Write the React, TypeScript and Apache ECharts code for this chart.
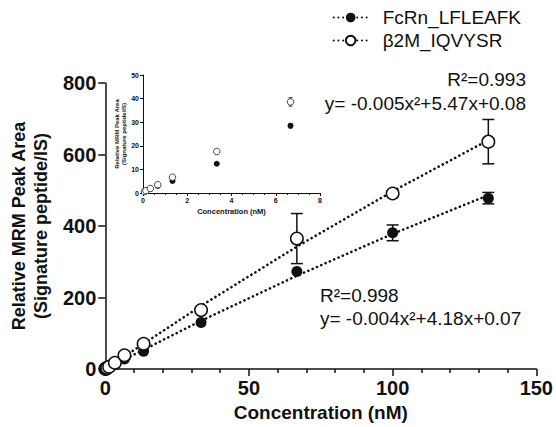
import React, { useEffect, useRef } from "react";
import * as echarts from "echarts";

// Concentrations (nM)
const concentrations = [0.067, 0.133, 0.333, 0.667, 1.333, 3.333, 6.667, 13.33, 33.33, 66.67, 100, 133.3];
// FcRn_LFLEAFK mean and error
const fcrnValues = [0.5, 0.9, 1.7, 3.0, 5.1, 12.4, 28.5, 50, 130, 273, 381, 478];
const fcrnErrors = [0, 0, 0, 0, 0, 0, 1.0, 0, 0, 0, 22, 16];
// β2M_IQVYSR mean and error
const b2mValues = [0.6, 1.0, 1.9, 3.5, 6.7, 17.6, 38.6, 71, 165, 365, 491, 636];
const b2mErrors = [0, 0, 0, 0, 0, 0, 1.8, 0, 0, 70, 7, 62];
// Fitted curves
const fitX = [0, 33.3, 66.7, 100, 133.3];
const fcrnFit = [0.07, 134.9, 261.0, 378.1, 486.2];
const b2mFit = [0.08, 176.6, 342.6, 497.1, 640.3];

const legendNames = ["FcRn_LFLEAFK", "β2M_IQVYSR"];
const mainXTicks = [0, 50, 100, 150];
const mainYTicks = [0, 200, 400, 600, 800];
const insetXTicks = [0, 2, 4, 6, 8];
const insetYTicks = [0, 10, 20, 30, 40, 50];

const annotHigh = ["R²=0.993", "y= -0.005x²+5.47x+0.08"];
const annotLow = ["R²=0.998", "y= -0.004x²+4.18x+0.07"];

const FONT = "'Liberation Sans', Arial, Helvetica, sans-serif";
const INK = "#111";

function pairs(xs: number[], ys: number[]) {
  return xs.map((x, i) => [x, ys[i]]);
}
function errTriples(xs: number[], ys: number[], es: number[], maxX: number) {
  return xs
    .map((x, i) => [x, ys[i], es[i]])
    .filter((d) => d[2] > 0 && d[0] <= maxX);
}

function errorBarRender(cap: number, width: number) {
  return (params: any, api: any) => {
    const x = api.value(0);
    const y = api.value(1);
    const e = api.value(2);
    const top = api.coord([x, y + e]);
    const bot = api.coord([x, y - e]);
    const style = { stroke: INK, lineWidth: width };
    return {
      type: "group",
      children: [
        { type: "line", shape: { x1: top[0], y1: top[1], x2: bot[0], y2: bot[1] }, style },
        { type: "line", shape: { x1: top[0] - cap, y1: top[1], x2: top[0] + cap, y2: top[1] }, style },
        { type: "line", shape: { x1: bot[0] - cap, y1: bot[1], x2: bot[0] + cap, y2: bot[1] }, style },
      ],
    };
  };
}

const dotted = { color: INK, width: 2.6, type: [0.1, 4.6] as any, cap: "round" as any };

export default function App() {
  const ref = useRef<HTMLDivElement>(null);
  useEffect(() => {
    if (!ref.current) return;
    const chart = echarts.init(ref.current, undefined, { renderer: "svg" });
    const axisCommon = (big: boolean) => ({
      axisLine: { show: true, onZero: false, lineStyle: { color: INK, width: big ? 1.5 : 1 } },
      splitLine: { show: false },
      minorSplitLine: { show: false },
    });
    const option: any = {
      animation: false,
      backgroundColor: "#fff",
      textStyle: { fontFamily: FONT },
      legend: {
        orient: "vertical",
        right: 30,
        top: 3,
        itemWidth: 34,
        itemHeight: 12,
        itemGap: 4,
        data: legendNames,
        textStyle: { fontSize: 19, color: INK, fontFamily: FONT, padding: [0, 0, 0, 10] },
      },
      grid: [
        { left: 104, right: 16, top: 83, bottom: 53 },
        { left: 143, top: 75, width: 177, height: 118 },
      ],
      xAxis: [
        {
          gridIndex: 0,
          type: "value",
          min: mainXTicks[0],
          max: mainXTicks[mainXTicks.length - 1],
          interval: mainXTicks[1] - mainXTicks[0],
          ...axisCommon(true),
          axisTick: { show: true, length: 7, lineStyle: { color: INK, width: 1.5 } },
          minorTick: { show: true, splitNumber: 5, length: 4, lineStyle: { color: INK, width: 1.5 } },
          axisLabel: { fontSize: 20, fontWeight: "bold", color: INK, margin: 9, fontFamily: FONT },
          name: "Concentration (nM)",
          nameLocation: "middle",
          nameGap: 29,
          nameTextStyle: { fontSize: 19, fontWeight: "bold", color: INK, fontFamily: FONT },
        },
        {
          gridIndex: 1,
          type: "value",
          min: insetXTicks[0],
          max: insetXTicks[insetXTicks.length - 1],
          interval: insetXTicks[1] - insetXTicks[0],
          ...axisCommon(false),
          axisTick: { show: true, length: 3, lineStyle: { color: INK, width: 1 } },
          minorTick: { show: true, splitNumber: 4, length: 2, lineStyle: { color: INK, width: 1 } },
          axisLabel: { fontSize: 7, fontWeight: "bold", color: INK, margin: 4, fontFamily: FONT },
          name: "Concentration (nM)",
          nameLocation: "middle",
          nameGap: 14,
          nameTextStyle: { fontSize: 7.5, fontWeight: "bold", color: INK, fontFamily: FONT },
        },
      ],
      yAxis: [
        {
          gridIndex: 0,
          type: "value",
          min: mainYTicks[0],
          max: mainYTicks[mainYTicks.length - 1],
          interval: mainYTicks[1] - mainYTicks[0],
          ...axisCommon(true),
          axisTick: { show: true, length: 7, lineStyle: { color: INK, width: 1.5 } },
          axisLabel: { fontSize: 20, fontWeight: "bold", color: INK, margin: 9, fontFamily: FONT },
          name: "Relative MRM Peak Area\n(Signature peptide/IS)",
          nameLocation: "middle",
          nameGap: 52,
          nameTextStyle: { fontSize: 18, fontWeight: "bold", color: INK, lineHeight: 22, fontFamily: FONT },
        },
        {
          gridIndex: 1,
          type: "value",
          min: insetYTicks[0],
          max: insetYTicks[insetYTicks.length - 1],
          interval: insetYTicks[1] - insetYTicks[0],
          ...axisCommon(false),
          axisTick: { show: true, length: 3, lineStyle: { color: INK, width: 1 } },
          axisLabel: { fontSize: 7, fontWeight: "bold", color: INK, margin: 4, fontFamily: FONT },
          name: "Relative MRM Peak Area\n(Signature peptide/IS)",
          nameLocation: "middle",
          nameGap: 13,
          nameTextStyle: { fontSize: 6, fontWeight: "bold", color: INK, lineHeight: 7, fontFamily: FONT },
        },
      ],
      series: [
        // legend carriers
        {
          name: legendNames[0],
          type: "line",
          xAxisIndex: 0,
          yAxisIndex: 0,
          data: [],
          symbol: "circle",
          symbolSize: 11,
          itemStyle: { color: INK },
          lineStyle: dotted,
        },
        {
          name: legendNames[1],
          type: "line",
          xAxisIndex: 0,
          yAxisIndex: 0,
          data: [],
          symbol: "circle",
          symbolSize: 11,
          itemStyle: { color: "#fff", borderColor: INK, borderWidth: 1.5 },
          lineStyle: dotted,
        },
        // fit lines
        {
          name: "fcrn-fit",
          type: "line",
          xAxisIndex: 0,
          yAxisIndex: 0,
          data: pairs(fitX, fcrnFit),
          showSymbol: false,
          symbol: "none",
          lineStyle: dotted,
          z: 1,
        },
        {
          name: "b2m-fit",
          type: "line",
          xAxisIndex: 0,
          yAxisIndex: 0,
          data: pairs(fitX, b2mFit),
          showSymbol: false,
          symbol: "none",
          lineStyle: dotted,
          z: 1,
        },
        // error bars main
        {
          name: "fcrn-err",
          type: "custom",
          xAxisIndex: 0,
          yAxisIndex: 0,
          data: errTriples(concentrations, fcrnValues, fcrnErrors, 1000),
          renderItem: errorBarRender(6, 1.5),
          z: 2,
        },
        {
          name: "b2m-err",
          type: "custom",
          xAxisIndex: 0,
          yAxisIndex: 0,
          data: errTriples(concentrations, b2mValues, b2mErrors, 1000),
          renderItem: errorBarRender(6, 1.5),
          z: 2,
        },
        // points main
        {
          name: "fcrn-pts",
          type: "scatter",
          xAxisIndex: 0,
          yAxisIndex: 0,
          data: pairs(concentrations, fcrnValues),
          symbol: "circle",
          symbolSize: 11,
          itemStyle: { color: INK, opacity: 1 },
          z: 3,
        },
        {
          name: "b2m-pts",
          type: "scatter",
          xAxisIndex: 0,
          yAxisIndex: 0,
          data: pairs(concentrations, b2mValues),
          symbol: "circle",
          symbolSize: 12.5,
          itemStyle: { color: "#fff", borderColor: INK, borderWidth: 1.5, opacity: 1 },
          z: 3,
        },
        // inset
        {
          name: "fcrn-err-inset",
          type: "custom",
          xAxisIndex: 1,
          yAxisIndex: 1,
          data: errTriples(concentrations, fcrnValues, fcrnErrors, 8),
          renderItem: errorBarRender(2, 0.8),
          z: 2,
        },
        {
          name: "b2m-err-inset",
          type: "custom",
          xAxisIndex: 1,
          yAxisIndex: 1,
          data: errTriples(concentrations, b2mValues, b2mErrors, 8),
          renderItem: errorBarRender(2, 0.8),
          z: 2,
        },
        {
          name: "fcrn-inset",
          type: "scatter",
          xAxisIndex: 1,
          yAxisIndex: 1,
          data: pairs(concentrations, fcrnValues).filter((d) => d[0] <= 8),
          symbol: "circle",
          symbolSize: 6,
          itemStyle: { color: INK, opacity: 1 },
          z: 3,
        },
        {
          name: "b2m-inset",
          type: "scatter",
          xAxisIndex: 1,
          yAxisIndex: 1,
          data: pairs(concentrations, b2mValues).filter((d) => d[0] <= 8),
          symbol: "circle",
          symbolSize: 6.5,
          itemStyle: { color: "#fff", borderColor: "#444", borderWidth: 1, opacity: 1 },
          z: 3,
        },
      ],
      graphic: [
        {
          type: "text",
          right: 30,
          top: 70,
          style: { text: annotHigh[0], font: `19px ${FONT}`, fill: INK, textAlign: "right" },
        },
        {
          type: "text",
          right: 30,
          top: 94,
          style: { text: annotHigh[1], font: `19px ${FONT}`, fill: INK, textAlign: "right" },
        },
        {
          type: "text",
          left: 320,
          top: 286,
          style: { text: annotLow[0], font: `19px ${FONT}`, fill: INK },
        },
        {
          type: "text",
          left: 320,
          top: 309,
          style: { text: annotLow[1], font: `19px ${FONT}`, fill: INK },
        },
      ],
    };
    chart.setOption(option);
    return () => chart.dispose();
  }, []);
  return (
    <div
      ref={ref}
      style={{ position: "fixed", left: 0, top: 0, width: 556, height: 427, background: "#fff" }}
    />
  );
}
